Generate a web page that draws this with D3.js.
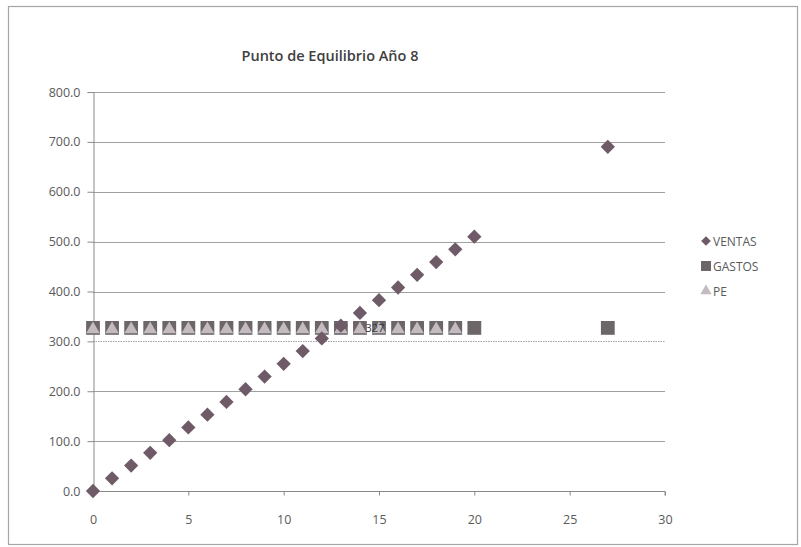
<!DOCTYPE html>
<html>
<head>
<meta charset="utf-8">
<script src="https://cdn.jsdelivr.net/npm/d3@7"></script>
<style>
  html, body { margin: 0; padding: 0; background: #ffffff; }
  svg { display: block; font-family: "Open Sans", "Lato", sans-serif; }
</style>
</head>
<body>
<svg id="chart" width="801" height="547"></svg>
<script>
// Break-even chart, year 8
const title = "Punto de Equilibrio Año 8";
const ventasX = [0,1,2,3,4,5,6,7,8,9,10,11,12,13,14,15,16,17,18,19,20,27];
const ventasY = [0,25.5,51,76.5,102,127.5,153,178.5,204,229.5,255,280.5,306,331.5,357,382.5,408,433.5,459,484.5,510,690];
const gastosX = [0,1,2,3,4,5,6,7,8,9,10,11,12,13,14,15,16,17,18,19,20,27];
const gastosY = [327,327,327,327,327,327,327,327,327,327,327,327,327,327,327,327,327,327,327,327,327,327];
const peX = [0,1,2,3,4,5,6,7,8,9,10,11,12,13,14,15,16,17,18,19];
const peY = [327,327,327,327,327,327,327,327,327,327,327,327,327,327,327,327,327,327,327,327];
const peLabel = { x: 15, y: 327, text: "327" };
const xTicks = [0,5,10,15,20,25,30];
const yTicks = [0,100,200,300,400,500,600,700,800];
const seriesNames = ["VENTAS", "GASTOS", "PE"];

const colors = { ventas: "#6f5b68", gastos: "#6c6669", pe: "#c3bbbf" };

const svg = d3.select("#chart");

// outer frame
svg.append("rect").attr("x", 8.5).attr("y", 6.5).attr("width", 789).attr("height", 538)
  .attr("fill", "#ffffff").attr("stroke", "#a6a6a6").attr("stroke-width", 1.2);

const x = d3.scaleLinear().domain([0, 30]).range([93, 665]);
const y = d3.scaleLinear().domain([0, 800]).range([491, 92]);

// horizontal gridlines
svg.append("g").selectAll("line").data(yTicks.filter(d => d > 0)).join("line")
  .attr("x1", x(0)).attr("x2", x(30))
  .attr("y1", d => Math.round(y(d)) + 0.5).attr("y2", d => Math.round(y(d)) + 0.5)
  .attr("stroke", "#a0a0a0").attr("stroke-width", 1)
  .attr("stroke-dasharray", d => d === 300 ? "1.5,1" : null);

// y axis
const yAxis = d3.axisLeft(y).tickValues(yTicks).tickFormat(d3.format(".1f")).tickSize(6).tickPadding(7);
const gy = svg.append("g").attr("transform", `translate(${x(0) + 0.5},0)`).call(yAxis);
gy.select(".domain").attr("stroke", "#8a8a8a");
gy.selectAll(".tick line").attr("stroke", "#8a8a8a");
gy.selectAll(".tick text").attr("font-size", 12.5).attr("fill", "#5a5a5a")
  .attr("font-family", "Open Sans, sans-serif");

// x axis
const xAxis = d3.axisBottom(x).tickValues(xTicks).tickSize(4).tickPadding(20);
const gx = svg.append("g").attr("transform", `translate(0,${Math.round(y(0)) + 0.5})`).call(xAxis);
gx.select(".domain").attr("stroke", "#8a8a8a").attr("d", `M${x(0)},0H${x(30)}V4`);
gx.selectAll(".tick line").attr("stroke", "#8a8a8a");
gx.selectAll(".tick text").attr("font-size", 12.5).attr("fill", "#5a5a5a")
  .attr("font-family", "Open Sans, sans-serif");

// title
svg.append("text").attr("x", 330).attr("y", 61).attr("text-anchor", "middle")
  .attr("font-size", 14.5).attr("font-weight", 600).attr("fill", "#404040")
  .attr("font-family", "Open Sans, sans-serif").text(title);

const diamond = d3.symbol().type(d3.symbolDiamond2).size(130);
const square = d3.symbol().type(d3.symbolSquare).size(190);
const triangle = d3.symbol().type(d3.symbolTriangle).size(80);

const gastos = gastosX.map((v, i) => [v, gastosY[i]]);
const pe = peX.map((v, i) => [v, peY[i]]);
const ventas = ventasX.map((v, i) => [v, ventasY[i]]);

// GASTOS squares
svg.append("g").selectAll("path").data(gastos).join("path")
  .attr("d", square).attr("transform", d => `translate(${x(d[0])},${y(d[1])})`)
  .attr("fill", colors.gastos);

// PE triangles on top of the squares
svg.append("g").selectAll("path").data(pe).join("path")
  .attr("d", triangle).attr("transform", d => `translate(${x(d[0])},${y(d[1]) + 1.5})`)
  .attr("fill", colors.pe);

// VENTAS diamonds
svg.append("g").selectAll("path").data(ventas).join("path")
  .attr("d", diamond).attr("transform", d => `translate(${x(d[0])},${y(d[1])})`)
  .attr("fill", colors.ventas);

// data label
svg.append("text").attr("x", x(peLabel.x) - 4).attr("y", y(peLabel.y) + 4)
  .attr("text-anchor", "middle").attr("font-size", 11).attr("fill", "#3a3a3a")
  .attr("font-family", "Open Sans, sans-serif").text(peLabel.text);

// legend
const legend = svg.append("g").attr("transform", "translate(706,241)");
const legendSymbols = [
  { sym: d3.symbol().type(d3.symbolDiamond2).size(60), fill: colors.ventas },
  { sym: d3.symbol().type(d3.symbolSquare).size(100), fill: colors.gastos },
  { sym: d3.symbol().type(d3.symbolTriangle).size(55), fill: colors.pe }
];
seriesNames.forEach((name, i) => {
  const g = legend.append("g").attr("transform", `translate(0,${i * 25})`);
  g.append("path").attr("d", legendSymbols[i].sym).attr("fill", legendSymbols[i].fill);
  g.append("text").attr("x", 7).attr("y", 4.5).attr("font-size", 12).attr("fill", "#5a5a5a")
    .attr("font-family", "Open Sans, sans-serif").text(name);
});
</script>
</body>
</html>
